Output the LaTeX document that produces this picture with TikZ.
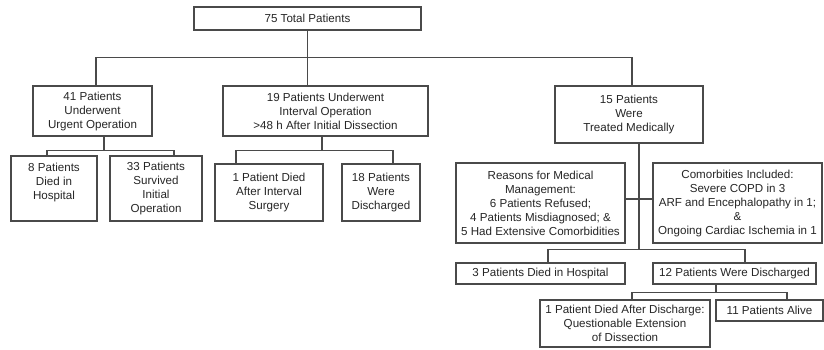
\documentclass[tikz,border=0pt]{standalone}
\usepackage{fontspec}
\setmainfont{Liberation Sans}
\definecolor{ln}{HTML}{4A4A4A}
\definecolor{tx}{HTML}{262626}
\begin{document}
\begin{tikzpicture}[x=1pt,y=-1pt,
  box/.style={draw=ln, line width=1.2pt, inner sep=0pt, align=center, text=tx,
    font=\fontsize{11.6}{14}\selectfont},
  conn/.style={draw=ln, line width=1.2pt}]
\useasboundingbox (0,0) rectangle (824,349);
\fill[white] (0,0) rectangle (824,349);
% nodes
\node[box, minimum width=227, minimum height=23] (top) at (307.5,18.5) {75 Total Patients};
\node[box, minimum width=119, minimum height=50] (b41) at (92.5,111) {41 Patients\\Underwent\\Urgent Operation};
\node[box, minimum width=205, minimum height=50] (b19) at (325.5,111) {19 Patients Underwent\\Interval Operation\\>48 h After Initial Dissection};
\node[box, minimum width=148, minimum height=57] (b15) at (629,114.5) {15 Patients\\Were\\Treated Medically};
\node[box, minimum width=86, minimum height=65] (b8) at (54,188.5) {8 Patients\\Died in\\Hospital\\\phantom{X}};
\node[box, minimum width=92, minimum height=65] (b33) at (156,188.5) {33 Patients\\Survived\\Initial\\Operation};
\node[box, minimum width=108, minimum height=57] (b1) at (269,192.5) {1 Patient Died\\After Interval\\Surgery};
\node[box, minimum width=78, minimum height=57] (b18) at (381,192.5) {18 Patients\\Were\\Discharged};
\node[box, minimum width=169, minimum height=80] (reasons) at (540.5,203) {Reasons for Medical\\Management:\\6 Patients Refused;\\4 Patients Misdiagnosed; \&\\5 Had Extensive Comorbidities};
\node[box, minimum width=169, minimum height=80] (comorb) at (737.5,203) {Comorbities Included:\\Severe COPD in 3\\ARF and Encephalopathy in 1;\\\&\\Ongoing Cardiac Ischemia in 1};
\node[box, minimum width=169, minimum height=21] (died3) at (540.5,273.5) {3 Patients Died in Hospital};
\node[box, minimum width=163, minimum height=21] (disc12) at (734.5,273.5) {12 Patients Were Discharged};
\node[box, minimum width=170, minimum height=47] (died1) at (625,323.5) {1 Patient Died After Discharge:\\Questionable Extension\\of Dissection};
\node[box, minimum width=107, minimum height=21] (alive11) at (769.5,310.5) {11 Patients Alive};
% connectors
\draw[conn] (top.south) -- (top.south |- b19.north);
\draw[conn] ([xshift=3.5]b41.north) -- ++(0,-28) -| ([xshift=3]b15.north);
\draw[conn] ([xshift=11.5]b41.south) -- ++(0,14) coordinate (j41);
\draw[conn] ([xshift=-7]b8.north) |- (j41) -| ([xshift=18]b33.north);
\draw[conn] ([xshift=-3.5]b19.south) -- ++(0,14) coordinate (j19);
\draw[conn] ([xshift=-33]b1.north) |- (j19) -| ([xshift=12]b18.north);
\draw[conn] ([xshift=10]b15.south) -- ++(0,106) coordinate (j15);
\draw[conn] ([yshift=4]reasons.east) -- ([yshift=4]comorb.west);
\draw[conn] ([xshift=7.5]died3.north) |- (j15) -| ([xshift=10.5]disc12.north);
\draw[conn] ([xshift=-18.5]disc12.south) -- ++(0,8) coordinate (j12);
\draw[conn] ([xshift=7]died1.north) |- (j12) -| ([xshift=17.5]alive11.north);
\end{tikzpicture}
\end{document}
